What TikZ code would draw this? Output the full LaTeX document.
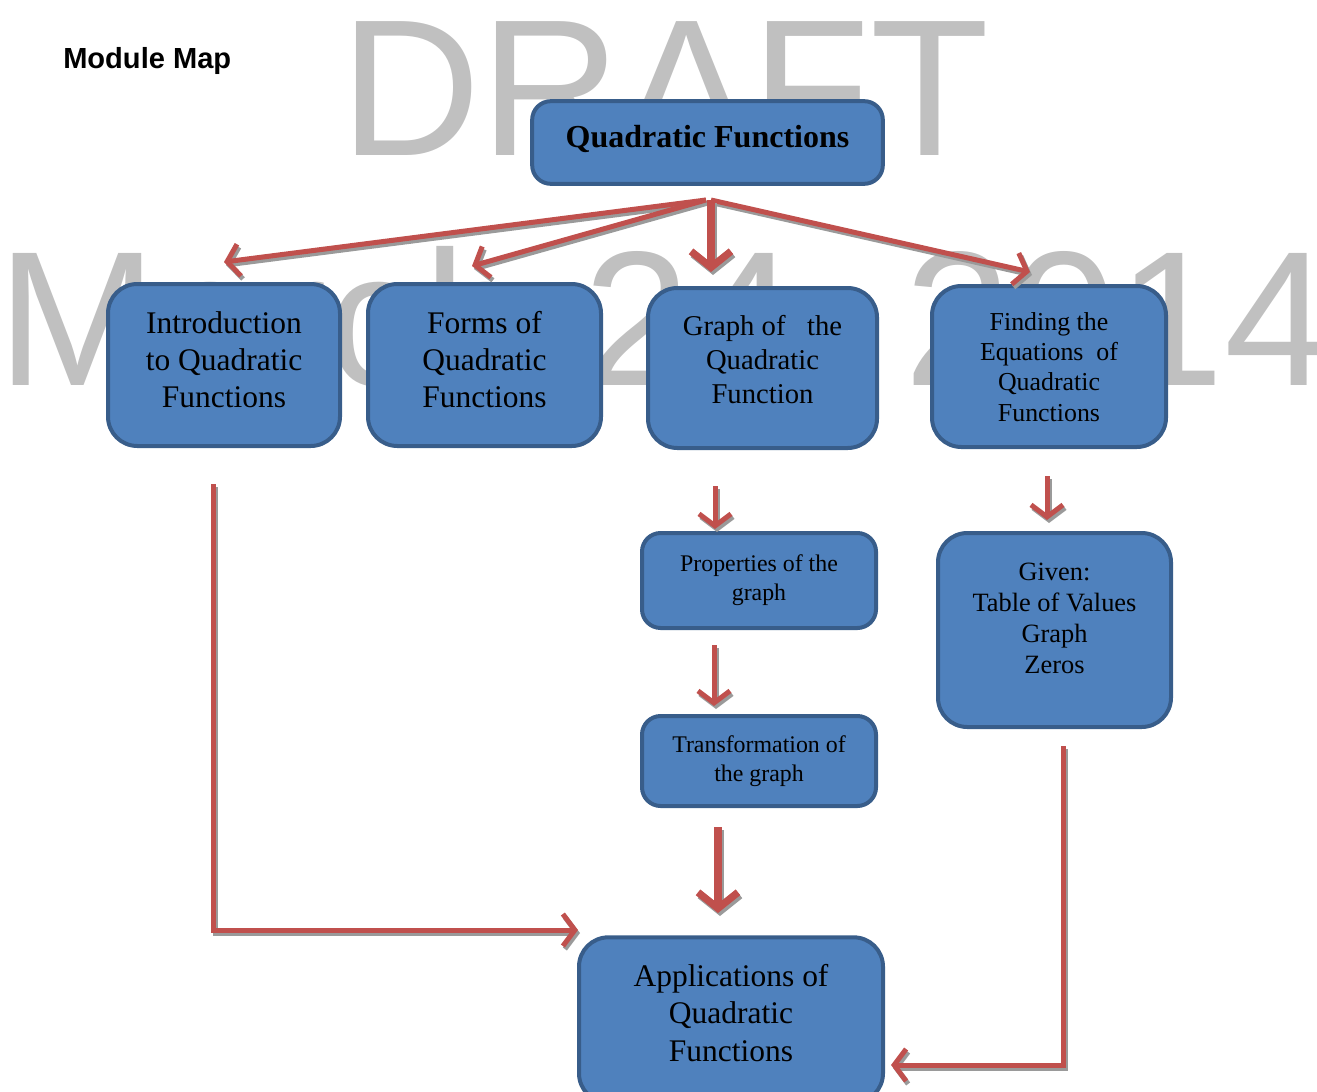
\documentclass[tikz,border=0pt]{standalone}
\usepackage{fontspec}
\setmainfont{Liberation Serif}
\newfontfamily\wmfont{Liberation Sans}
\usetikzlibrary{arrows.meta}
\definecolor{boxfill}{HTML}{4F81BD}
\definecolor{boxline}{HTML}{385D8A}
\definecolor{arrowred}{HTML}{C0504D}
\definecolor{wmgray}{HTML}{C0C0C0}
\definecolor{shadowgray}{HTML}{9A9A9A}
\newcommand{\sarrow}[2]{%
  \draw[#1, draw=shadowgray, transform canvas={shift={(1.5pt,-2.25pt)}}] #2;
  \draw[#1, draw=arrowred] #2;}
\begin{document}
\begin{tikzpicture}[x=0.75pt,y=-0.75pt,
  box/.style={draw=boxline, fill=boxfill, line width=3pt, rounded corners=22pt, inner sep=0pt, align=center},
  smallbox/.style={box, rounded corners=14pt},
  arr/.style={line width=3.75pt, -{Straight Barb[length=9pt,width=24pt]}},
  bigarr/.style={line width=5.5pt, -{Straight Barb[length=12pt,width=30pt]}},
  flow/.style={line width=3.75pt, -{Straight Barb[length=9pt,width=24pt]}}]
\clip (0,0) rectangle (1317,1092);
\useasboundingbox (0,0) rectangle (1317,1092);
% watermark
\node[anchor=base west, inner sep=0pt, text=wmgray, font=\wmfont\fontsize{146pt}{146pt}\selectfont] (wm1) at (340,155) {DRAFT};
\node[anchor=base west, inner sep=0pt, text=wmgray, font=\wmfont\fontsize{144pt}{144pt}\selectfont] (wm2) at (-3,385) {March 24, 2014};
% title
\node[anchor=base west, inner sep=0pt, font=\wmfont\bfseries\fontsize{21.8pt}{24pt}\selectfont] (title) at (63,68) {Module Map};
% boxes
\node[smallbox, minimum width=263pt, minimum height=62pt] (top) at (707.5,142.5) {};
\node[inner sep=0pt, font=\bfseries\fontsize{24pt}{28pt}\selectfont] (toptext) at (707.5,139) {Quadratic Functions};
\node[box, minimum width=174pt, minimum height=121.5pt] (intro) at (224,365) {};
\node[align=center, inner sep=0pt, font=\fontsize{23.6pt}{27.8pt}\selectfont] (introtext) at (224,360) {Introduction\\to Quadratic\\Functions};
\node[box, minimum width=174.75pt, minimum height=121.5pt] (forms) at (484.5,365) {};
\node[align=center, inner sep=0pt, font=\fontsize{23.6pt}{27.8pt}\selectfont] (formstext) at (484.5,360) {Forms of\\Quadratic\\Functions};
\node[box, minimum width=171.75pt, minimum height=120pt] (graph) at (762.5,368) {};
\node[align=center, inner sep=0pt, font=\fontsize{21.5pt}{25.5pt}\selectfont] (graphtext) at (762.5,360) {Graph of \ \ the\\Quadratic\\Function};
\node[box, minimum width=175.5pt, minimum height=120.75pt] (finding) at (1049,366.5) {};
\node[align=center, inner sep=0pt, font=\fontsize{19.4pt}{22.6pt}\selectfont] (findingtext) at (1049,367) {Finding the\\Equations \ of\\Quadratic\\Functions};
\node[smallbox, minimum width=175.5pt, minimum height=71.25pt, font=\fontsize{17.9pt}{21.8pt}\selectfont] (props) at (759,580.5) {Properties of the\\graph};
\node[smallbox, minimum width=175.5pt, minimum height=67.5pt, font=\fontsize{17.9pt}{21.8pt}\selectfont] (trans) at (759,761) {Transformation of\\the graph};
\node[box, minimum width=174.75pt, minimum height=145.5pt] (given) at (1054.5,630) {};
\node[align=center, inner sep=0pt, font=\fontsize{19.8pt}{23.3pt}\selectfont] (giventext) at (1054.5,618) {Given:\\Table of Values\\Graph\\Zeros};
\node[box, minimum width=228pt, minimum height=124pt] (apps) at (731,1020) {};
\node[align=center, inner sep=0pt, font=\fontsize{23.6pt}{27.8pt}\selectfont] (appstext) at (731,1013) {Applications of\\Quadratic\\Functions};
% connector anchors
\coordinate (s1) at (706,200);
\coordinate (s2) at (711,200);
\coordinate (e1) at (224,262);
\coordinate (e2) at (472,266);
\coordinate (e3) at (711,272);
\coordinate (e4) at (1030,272);
\coordinate (g1) at (715,486);
\coordinate (g2) at (715,529);
\coordinate (p1) at (714,645);
\coordinate (p2) at (714,706);
\coordinate (t1) at (718,827);
\coordinate (t2) at (718,913);
\coordinate (f1) at (1047,476);
\coordinate (f2) at (1047,520);
\coordinate (i1) at (213,484);
\coordinate (i2) at (578,930);
\coordinate (v1) at (1063,746);
\coordinate (v2) at (891,1065);
% connectors
\sarrow{arr}{(s1) -- (e1)}
\sarrow{arr}{(s1) -- (e2)}
\sarrow{arr}{(s2) -- (e4)}
\sarrow{bigarr}{(s2) -- (e3)}
\sarrow{arr}{(g1) -- (g2)}
\sarrow{arr}{(p1) -- (p2)}
\sarrow{bigarr}{(t1) -- (t2)}
\sarrow{arr}{(f1) -- (f2)}
\sarrow{flow}{(i1) |- (i2)}
\sarrow{flow}{(v1) |- (v2)}
\end{tikzpicture}
\end{document}
